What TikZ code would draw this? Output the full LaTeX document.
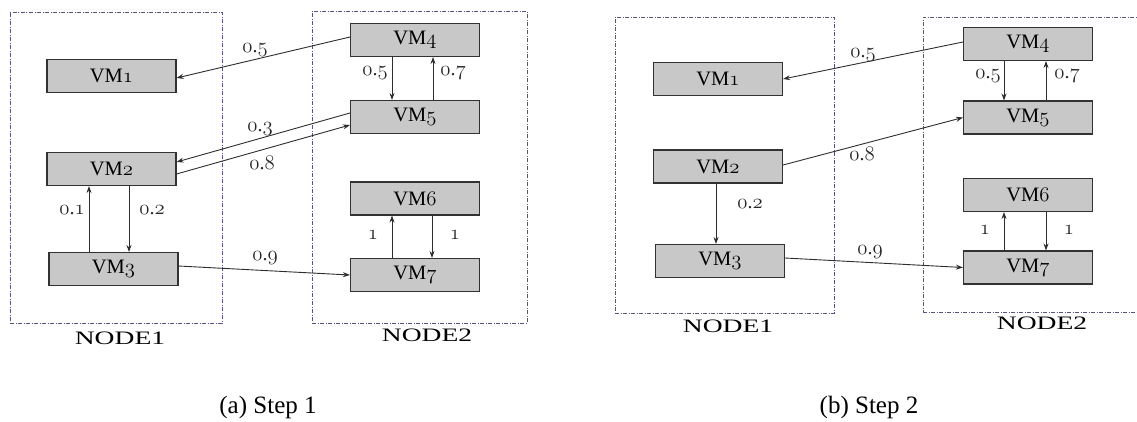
\documentclass[tikz,border=0pt]{standalone}
\usepackage{fontspec}
\setmainfont{Liberation Serif}
\usetikzlibrary{arrows.meta,calc}
\newcommand\osn[1]{{\usefont{OML}{cmm}{m}{it}#1}}
\newcommand\wv[2]{\osn{#1}.\osn{#2}}
\definecolor{boxfill}{RGB}{200,200,200}
\definecolor{boxline}{RGB}{50,50,50}
\definecolor{dashc}{RGB}{85,85,125}
\definecolor{linec}{RGB}{45,45,45}
\begin{document}
\begin{tikzpicture}[x=1pt,y=-1pt,
 vm/.style={draw=boxline,line width=1.1pt,fill=boxfill,minimum width=129pt,minimum height=33pt,inner sep=0pt,font=\fontsize{20.5}{23}\selectfont},
 host/.style={draw=dashc,line width=0.9pt,dash pattern=on 4pt off 1.5pt on 1pt off 1.5pt,inner sep=0pt},
 hostlbl/.style={font=\fontsize{19}{22}\selectfont,inner sep=0pt},
 wt/.style={font=\fontsize{20}{22}\selectfont,inner sep=0pt,text=black!85},
 arr/.style={draw=linec,line width=0.9pt,-{Stealth[length=7pt,width=5pt]}},
 capt/.style={font=\fontsize{25}{29}\selectfont,inner sep=0pt}]
\useasboundingbox (0,0) rectangle (1137,421);
\clip (0,0) rectangle (1137,421);

% ---------- hosts ----------
\node[host,minimum width=212pt,minimum height=311pt] (LH1) at (116,167.5) {};
\node[host,minimum width=215pt,minimum height=312pt] (LH2) at (419.5,167) {};
\node[host,minimum width=219pt,minimum height=296pt] (RH1) at (724.5,165) {};
\node[host,minimum width=222pt,minimum height=295pt] (RH2) at (1034,164.5) {};

\node[hostlbl] (LN1) at (120,338) {\scalebox{1.45}[1]{NODE1}};
\node[hostlbl] (LN2) at (427,335) {\scalebox{1.45}[1]{NODE2}};
\node[hostlbl] (RN1) at (728,326) {\scalebox{1.45}[1]{NODE1}};
\node[hostlbl] (RN2) at (1042,323.5) {\scalebox{1.45}[1]{NODE2}};

% ---------- step 1 VMs ----------
\node[vm] (L1) at (111.5,76) {VM\osn{1}};
\node[vm] (L2) at (111.5,169) {VM\osn{2}};
\node[vm] (L3) at (113.5,269) {VM\osn{3}};
\node[vm] (L4) at (415,40) {VM\osn{4}};
\node[vm] (L5) at (415,117) {VM\osn{5}};
\node[vm] (L6) at (415,198.5) {VM\osn{6}};
\node[vm] (L7) at (415,275) {VM\osn{7}};

% ---------- step 2 VMs ----------
\node[vm] (R1) at (718,79) {VM\osn{1}};
\node[vm] (R2) at (718,166.5) {VM\osn{2}};
\node[vm] (R3) at (720,261) {VM\osn{3}};
\node[vm] (R4) at (1028,44) {VM\osn{4}};
\node[vm] (R5) at (1028,117.5) {VM\osn{5}};
\node[vm] (R6) at (1028,195) {VM\osn{6}};
\node[vm] (R7) at (1028,267.5) {VM\osn{7}};

% ---------- step 1 connectors ----------
\draw[arr] ([yshift=3pt]L4.west) -- ([yshift=-2pt]L1.east);
\draw[arr] ([yshift=4pt]L5.west) -- ([yshift=7pt]L2.east);
\draw[arr] ([yshift=-5pt]L2.east) -- ([yshift=-8pt]L5.west);
\draw[arr] ([xshift=-24.5pt]L3.north) -- ([xshift=-22.5pt]L2.south);
\draw[arr] ([xshift=17.5pt]L2.south) -- ([xshift=15.5pt]L3.north);
\draw[arr] ([yshift=3pt]L3.east) -- (L7.west);
\draw[arr] ([xshift=-23pt]L4.south) -- ([xshift=-23pt]L5.north);
\draw[arr] ([xshift=18pt]L5.north) -- ([xshift=18pt]L4.south);
\draw[arr] ([xshift=-23pt]L7.north) -- ([xshift=-23pt]L6.south);
\draw[arr] ([xshift=17pt]L6.south) -- ([xshift=17pt]L7.north);

\node[wt] (w1) at (255,50) {\wv{0}{5}};
\node[wt] (w2) at (260,129) {\wv{0}{3}};
\node[wt] (w3) at (262,163) {\wv{0}{8}};
\node[wt] (w4) at (72,210) {\wv{0}{1}};
\node[wt] (w5) at (152,210) {\wv{0}{2}};
\node[wt] (w6) at (265,258) {\wv{0}{9}};
\node[wt] (w7) at (375,73) {\wv{0}{5}};
\node[wt] (w8) at (453,73) {\wv{0}{7}};
\node[wt] (w9) at (373,235) {\osn{1}};
\node[wt] (w10) at (455,235) {\osn{1}};

% ---------- step 2 connectors ----------
\draw[arr] ([yshift=2pt]R4.west) -- (R1.east);
\draw[arr] ([yshift=1.5pt]R2.east) -- (R5.west);
\draw[arr] ([xshift=-2pt]R2.south) -- ([xshift=-4pt]R3.north);
\draw[arr] ([yshift=3pt]R3.east) -- (R7.west);
\draw[arr] ([xshift=-24pt]R4.south) -- ([xshift=-24pt]R5.north);
\draw[arr] ([xshift=18pt]R5.north) -- ([xshift=18pt]R4.south);
\draw[arr] ([xshift=-24pt]R7.north) -- ([xshift=-24pt]R6.south);
\draw[arr] ([xshift=18pt]R6.south) -- ([xshift=18pt]R7.north);

\node[wt] (v1) at (863,55) {\wv{0}{5}};
\node[wt] (v2) at (862,154) {\wv{0}{8}};
\node[wt] (v3) at (750,204) {\wv{0}{2}};
\node[wt] (v4) at (870,252) {\wv{0}{9}};
\node[wt] (v5) at (988,76) {\wv{0}{5}};
\node[wt] (v6) at (1067,76) {\wv{0}{7}};
\node[wt] (v7) at (985,230) {\osn{1}};
\node[wt] (v8) at (1069,230) {\osn{1}};

% ---------- captions ----------
\node[capt] (ca) at (268,407) {(a) Step 1};
\node[capt] (cb) at (869,407) {(b) Step 2};
\end{tikzpicture}
\end{document}
